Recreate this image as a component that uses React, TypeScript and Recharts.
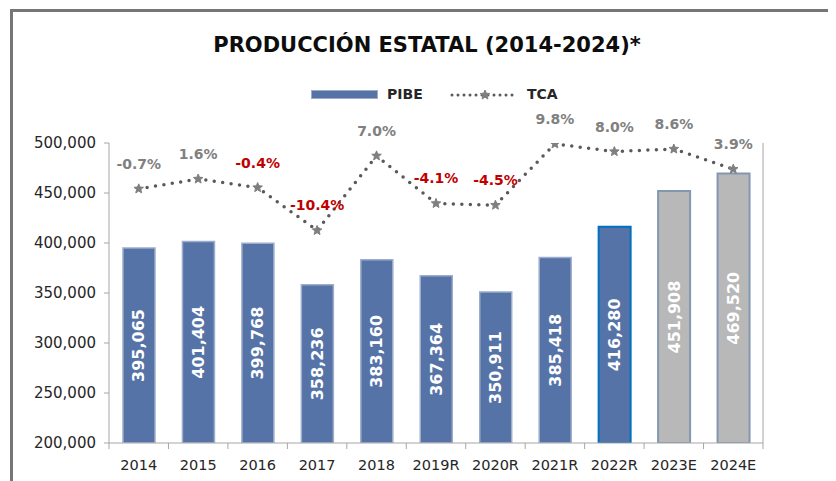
import React from 'react';
import {
  ComposedChart,
  Bar,
  Line,
  XAxis,
  YAxis,
  Cell,
  LabelList,
  Legend,
} from 'recharts';

// ---------- data ----------
const categories = ['2014', '2015', '2016', '2017', '2018', '2019R', '2020R', '2021R', '2022R', '2023E', '2024E'];
const pibeValues = [395065, 401404, 399768, 358236, 383160, 367364, 350911, 385418, 416280, 451908, 469520];
const tcaValues = [-0.7, 1.6, -0.4, -10.4, 7.0, -4.1, -4.5, 9.8, 8.0, 8.6, 3.9];
const pibeTicks = [200000, 250000, 300000, 350000, 400000, 450000, 500000];
const pibeDomain = [200000, 500000];
const tcaDomain = [-60, 10];
const highlightedCategory = '2022R';

// label tone per TCA point (style, kept apart from data)
const tcaLabelTone = ['gray', 'gray', 'red', 'red', 'gray', 'red', 'red', 'gray', 'gray', 'gray', 'gray'];

const data = categories.map((c, i) => ({ cat: c, pibe: pibeValues[i], tca: tcaValues[i] }));

// ---------- styles ----------
const FONT = '"DejaVu Sans", sans-serif';
const BLUE = '#5673A8';
const BLUE_EDGE = '#9DADC9';
const GRAY_FILL = '#B8B8B8';
const GRAY_EDGE = '#8497B0';
const HIGHLIGHT_EDGE = '#0070C0';
const AXIS = '#A6A6A6';
const LINE = '#595959';
const MARKER = '#7F7F7F';
const RED = '#C00000';
const LABEL_GRAY = '#808080';

const CHART_W = 828;
const CHART_H = 473;
const MARGIN = { top: 135, right: 72, bottom: 8, left: 0 };
const LEFT_AXIS_W = 101;
const RIGHT_AXIS_W = 1;
const PLOT_W = CHART_W - MARGIN.left - MARGIN.right - LEFT_AXIS_W - RIGHT_AXIS_W;
const BAND = PLOT_W / categories.length;

const fmt = (v: number) => v.toLocaleString('en-US');

const StarDot = (props: any) => {
  const { cx, cy } = props;
  if (cx == null || cy == null) return null;
  const pts: string[] = [];
  const n = 5;
  for (let k = 0; k < n * 2; k++) {
    const r = k % 2 === 0 ? 5 : 2.2;
    const a = (Math.PI / n) * k - Math.PI / 2;
    pts.push(`${cx + r * Math.cos(a)},${cy + r * Math.sin(a)}`);
  }
  return <polygon points={pts.join(' ')} fill={MARKER} stroke={MARKER} strokeWidth={1} />;
};

const XTick = (props: any) => {
  const { x, y, payload, index } = props;
  const left = x - BAND / 2;
  const right = x + BAND / 2;
  return (
    <g>
      <line x1={left} y1={y} x2={left} y2={y + 6} stroke={AXIS} strokeWidth={1} />
      {index === categories.length - 1 && (
        <line x1={right} y1={y} x2={right} y2={y + 6} stroke={AXIS} strokeWidth={1} />
      )}
      <text x={x} y={y + 27} textAnchor="middle" fontFamily={FONT} fontSize={14.5} fill="#262626">
        {payload.value}
      </text>
    </g>
  );
};

const BarLabel = (props: any) => {
  const { x, y, width, height, value } = props;
  const cx = x + width / 2;
  const cy = y + height / 2;
  return (
    <text
      x={cx}
      y={cy}
      transform={`rotate(-90, ${cx}, ${cy})`}
      textAnchor="middle"
      dominantBaseline="central"
      fontFamily={FONT}
      fontSize={16}
      fontWeight="bold"
      fill="#FFFFFF"
    >
      {fmt(value)}
    </text>
  );
};

const TcaLabel = (props: any) => {
  const { x, y, value, index } = props;
  const color = tcaLabelTone[index] === 'red' ? RED : LABEL_GRAY;
  return (
    <text x={x} y={y - 20} textAnchor="middle" fontFamily={FONT} fontSize={14} fontWeight="bold" fill={color}>
      {`${Number(value).toFixed(1)}%`}
    </text>
  );
};

const LegendContent = () => (
  <div style={{ position: 'relative', width: CHART_W, height: 22, fontFamily: FONT, fontWeight: 'bold', fontSize: 14, color: '#262626' }}>
    <div style={{ position: 'absolute', left: 303, top: 6, width: 67, height: 9, background: BLUE, boxSizing: 'border-box', border: `1px solid ${BLUE_EDGE}` }} />
    <div style={{ position: 'absolute', left: 379, top: 2, lineHeight: '17px' }}>PIBE</div>
    <svg style={{ position: 'absolute', left: 442, top: 0 }} width={70} height={22}>
      <line x1={2} y1={11} x2={68} y2={11} stroke={LINE} strokeWidth={3} strokeDasharray="0 6" strokeLinecap="round" />
      <StarDot cx={35} cy={11} />
    </svg>
    <div style={{ position: 'absolute', left: 519, top: 2, lineHeight: '17px' }}>TCA</div>
  </div>
);

export default function App() {
  return (
    <div style={{ position: 'relative', width: CHART_W, height: CHART_H, fontFamily: FONT }}>
      <div
        style={{
          position: 'absolute',
          left: 2,
          top: 1,
          width: CHART_W,
          height: CHART_H,
          borderLeft: '3px solid #767676',
          borderTop: '3px solid #767676',
        }}
      />
      <div
        style={{
          position: 'absolute',
          left: 5,
          top: 25,
          width: CHART_W,
          textAlign: 'center',
          fontFamily: FONT,
          fontWeight: 'bold',
          fontSize: 21,
          lineHeight: '24px',
          color: '#0D0D0D',
        }}
      >
        PRODUCCIÓN ESTATAL (2014-2024)*
      </div>
      <div style={{ position: 'absolute', left: 0, top: 0 }}>
        <ComposedChart width={CHART_W} height={CHART_H} data={data} margin={MARGIN}>
          <XAxis
            dataKey="cat"
            height={30}
            axisLine={{ stroke: AXIS }}
            tickLine={false}
            tickSize={0}
            tickMargin={0}
            interval={0}
            tick={<XTick />}
          />
          <YAxis
            yAxisId="pibe"
            width={LEFT_AXIS_W}
            domain={pibeDomain}
            ticks={pibeTicks}
            allowDataOverflow
            tickFormatter={fmt}
            axisLine={{ stroke: AXIS }}
            tickLine={{ stroke: AXIS }}
            tickSize={5}
            tickMargin={8}
            tick={{ fontFamily: FONT, fontSize: 15, fill: '#262626' }}
          />
          <YAxis
            yAxisId="tca"
            orientation="right"
            width={RIGHT_AXIS_W}
            domain={tcaDomain}
            allowDataOverflow
            tick={false}
            tickLine={false}
            axisLine={{ stroke: AXIS }}
          />
          <Legend
            layout="horizontal"
            verticalAlign="middle"
            align="center"
            content={<LegendContent />}
            wrapperStyle={{ top: 76, left: 0, width: CHART_W, height: 22 }}
          />
          <Bar yAxisId="pibe" dataKey="pibe" name="PIBE" barSize={32} isAnimationActive={false}>
            {data.map((d) => {
              const est = d.cat.endsWith('E');
              const hl = d.cat === highlightedCategory;
              return (
                <Cell
                  key={d.cat}
                  fill={est ? GRAY_FILL : BLUE}
                  stroke={hl ? HIGHLIGHT_EDGE : est ? GRAY_EDGE : BLUE_EDGE}
                  strokeWidth={hl || est ? 2 : 1.5}
                />
              );
            })}
            <LabelList dataKey="pibe" content={<BarLabel />} />
          </Bar>
          <Line
            yAxisId="tca"
            dataKey="tca"
            name="TCA"
            stroke={LINE}
            strokeWidth={3.5}
            strokeDasharray="0 8.5"
            strokeLinecap="round"
            dot={<StarDot />}
            activeDot={false}
            isAnimationActive={false}
          >
            <LabelList dataKey="tca" content={<TcaLabel />} />
          </Line>
        </ComposedChart>
      </div>
    </div>
  );
}
